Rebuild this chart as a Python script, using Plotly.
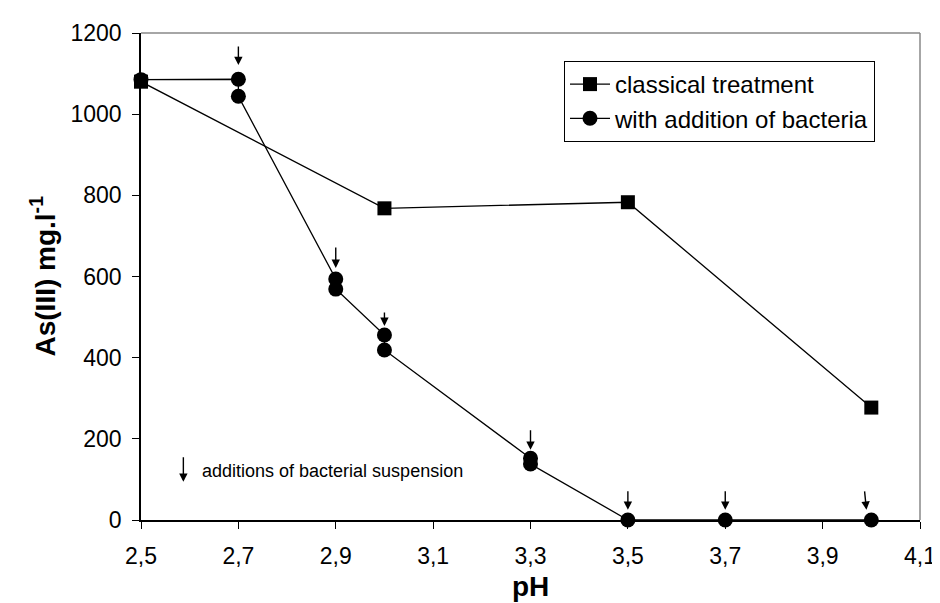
import plotly.graph_objects as go

# ---- data ----
ph_classical = [2.5, 3.0, 3.5, 4.0]
as_classical = [1080, 768, 783, 277]

ph_bacteria = [2.5, 2.7, 2.7, 2.9, 2.9, 3.0, 3.0, 3.3, 3.3, 3.5, 3.7, 4.0]
as_bacteria = [1085, 1086, 1044, 594, 569, 456, 419, 152, 138, 0, 0, 0]

# additions of bacterial suspension (arrow head positions)
arrow_ph = [2.7, 2.9, 3.0, 3.3, 3.5, 3.7, 3.99]
arrow_as = [1121, 621, 478, 173, 25, 25, 25]
arrow_len = [20, 22, 15, 21, 20, 20, 20]

x_tickvals = [2.5, 2.7, 2.9, 3.1, 3.3, 3.5, 3.7, 3.9, 4.1]
x_ticktext = ["2,5", "2,7", "2,9", "3,1", "3,3", "3,5", "3,7", "3,9", "4,1"]
y_tickvals = [0, 200, 400, 600, 800, 1000, 1200]
y_ticktext = ["0", "200", "400", "600", "800", "1000", "1200"]

FONT = "Arial, 'Liberation Sans', sans-serif"

fig = go.Figure()
fig.add_trace(go.Scatter(
    x=ph_classical, y=as_classical, mode="lines+markers",
    name="classical treatment",
    line=dict(color="black", width=1.3),
    marker=dict(symbol="square", size=14, color="black"),
    cliponaxis=False,
))
fig.add_trace(go.Scatter(
    x=ph_bacteria, y=as_bacteria, mode="lines+markers",
    name="with addition of bacteria",
    line=dict(color="black", width=1.3),
    marker=dict(symbol="circle", size=15, color="black"),
    cliponaxis=False,
))

annotations = []
for xv, yv, ln in zip(arrow_ph, arrow_as, arrow_len):
    dx = -2 if xv > 3.9 else 0
    annotations.append(dict(
        x=xv, y=yv, xref="x", yref="y", showarrow=True,
        ax=dx, ay=-ln, axref="pixel", ayref="pixel",
        arrowhead=2, arrowsize=1.2, arrowwidth=1.4, arrowcolor="black", text="",
    ))
# legend arrow + text
annotations.append(dict(
    x=2.587, y=94, xref="x", yref="y", showarrow=True, ax=0, ay=-26,
    arrowhead=2, arrowsize=1.2, arrowwidth=1.4, arrowcolor="black", text="",
))
annotations.append(dict(
    x=2.621, y=121, xref="x", yref="y", showarrow=False, xanchor="left", yanchor="middle",
    text="additions of bacterial suspension", font=dict(family=FONT, size=18, color="black"),
))
# axis titles
annotations.append(dict(
    x=0, y=0.5, xref="paper", yref="paper", xshift=-98, showarrow=False,
    textangle=-90, xanchor="center", yanchor="middle",
    text="<b>As(III) mg.l<sup>-1</sup></b>", font=dict(family=FONT, size=28, color="black"),
))
annotations.append(dict(
    x=0.5, y=0, xref="paper", yref="paper", yshift=-66, showarrow=False,
    xanchor="center", yanchor="middle",
    text="<b>pH</b>", font=dict(family=FONT, size=28, color="black"),
))

shapes = [
    dict(type="line", xref="paper", yref="paper", x0=0, x1=1, y0=1, y1=1,
         line=dict(color="#888888", width=1.5)),
    dict(type="line", xref="paper", yref="paper", x0=1, x1=1, y0=0, y1=1,
         line=dict(color="#888888", width=1.5)),
]

fig.update_layout(
    width=940, height=603,
    margin=dict(l=133, r=15, t=25, b=91),
    paper_bgcolor="white", plot_bgcolor="white",
    font=dict(family=FONT, color="black"),
    showlegend=True,
    legend=dict(
        x=0.543, y=0.9425, xanchor="left", yanchor="top",
        bgcolor="white", bordercolor="black", borderwidth=1,
        font=dict(family=FONT, size=24, color="black"),
        itemwidth=40,
    ),
    xaxis=dict(
        range=[2.5, 4.1], tickvals=x_tickvals, ticktext=x_ticktext,
        showgrid=False, zeroline=False, showline=True, linecolor="black", linewidth=1.5,
        ticks="outside", ticklen=7, tickwidth=1.3, tickcolor="black",
        tickfont=dict(family=FONT, size=23, color="black"), ticklabelstandoff=8,
        ticklabeloverflow="allow",
    ),
    yaxis=dict(
        range=[0, 1200], tickvals=y_tickvals, ticktext=y_ticktext,
        showgrid=False, zeroline=False, showline=True, linecolor="black", linewidth=1.5,
        ticks="outside", ticklen=7, tickwidth=1.3, tickcolor="black",
        tickfont=dict(family=FONT, size=23, color="black"), ticklabelstandoff=6,
    ),
    annotations=annotations,
    shapes=shapes,
)

fig.write_html("out.html")
